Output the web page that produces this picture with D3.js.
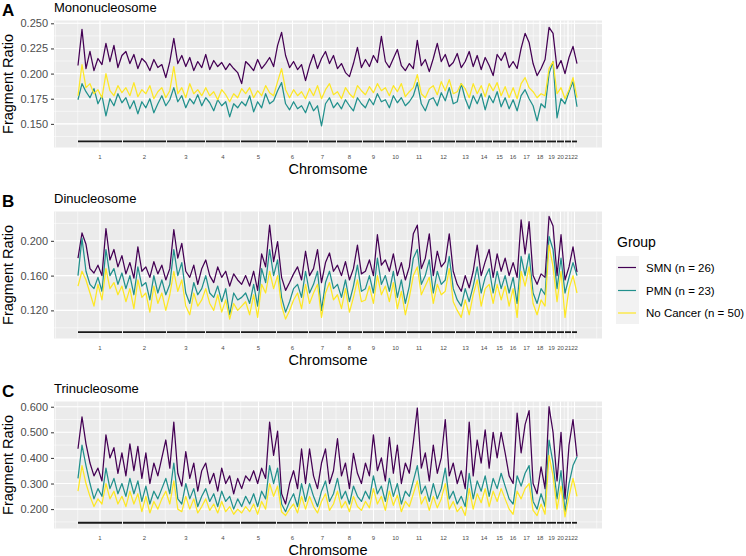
<!DOCTYPE html>
<html><head><meta charset="utf-8">
<script src="https://cdn.jsdelivr.net/npm/d3@7"></script>
<style>body{margin:0;background:#fff}svg{display:block;font-family:"Liberation Sans",Arial,sans-serif}</style>
</head><body><svg id="c" width="746" height="556"></svg>
<script>
// ---------- data ----------
const chromosomes = ["1","2","3","4","5","6","7","8","9","10","11","12","13","14","15","16","17","18","19","20","21","22"];
const chrStart = [0,45,89,128,163,199,231,259,285,307,329,354,378,398,415,429,442,456,469,479,487,494];
const chrEnd   = [44,88,127,162,198,230,258,284,306,328,353,377,397,414,428,441,455,468,478,486,493,499];
const nBins = 499;
const groups = ["SMN (n = 26)", "PMN (n = 23)", "No Cancer (n = 50)"];
const groupColors = ["#440154", "#21908C", "#FDE725"];

const monoSMN = [0.208,0.244,0.205,0.222,0.203,0.215,0.209,0.230,0.212,0.228,0.206,0.218,
 0.222,0.210,0.219,0.205,0.215,0.211,0.203,0.214,0.206,0.209,0.196,
 0.212,0.235,0.210,0.218,0.207,0.216,0.203,0.212,0.206,
 0.219,0.204,0.213,0.207,0.211,0.204,0.210,0.205,0.201,0.190,
 0.212,0.208,0.203,0.214,0.205,0.210,0.216,0.207,
 0.228,0.241,0.218,0.206,0.212,0.204,0.209,0.193,
 0.208,0.219,0.205,0.215,0.222,0.210,0.218,
 0.205,0.210,0.201,0.197,0.210,0.226,0.206,
 0.214,0.207,0.218,0.211,0.237,
 0.212,0.206,0.215,0.224,0.208,0.203,
 0.210,0.205,0.233,0.208,0.214,0.202,
 0.215,0.230,0.212,0.219,0.207,0.211,
 0.220,0.206,0.212,0.222,0.207,
 0.218,0.204,0.216,0.208,0.198,
 0.219,0.213,0.221,
 0.206,0.212,0.205,
 0.225,0.240,0.231,
 0.210,0.198,0.205,0.214,
 0.246,0.240,
 0.205,0.213,
 0.200,0.216,0.227,0.210];
const monoPMN = [0.174,0.190,0.182,0.176,0.185,0.170,0.178,0.158,0.175,0.168,0.180,0.171,
 0.176,0.165,0.173,0.160,0.172,0.166,0.175,0.161,0.170,0.178,0.168,
 0.174,0.186,0.172,0.178,0.166,0.175,0.170,0.179,0.168,
 0.176,0.171,0.163,0.174,0.168,0.172,0.157,0.170,0.166,0.172,
 0.168,0.178,0.162,0.172,0.166,0.180,0.170,0.173,
 0.183,0.191,0.170,0.164,0.172,0.165,0.168,0.161,
 0.172,0.163,0.168,0.148,0.170,0.176,0.166,
 0.171,0.165,0.174,0.168,0.163,0.176,0.170,
 0.166,0.175,0.169,0.180,0.172,
 0.174,0.166,0.178,0.171,0.176,0.168,
 0.172,0.178,0.191,0.170,0.163,0.174,
 0.176,0.168,0.181,0.173,0.186,0.170,
 0.172,0.190,0.175,0.165,0.178,
 0.170,0.180,0.164,0.178,0.171,
 0.182,0.167,0.176,
 0.165,0.174,0.163,
 0.178,0.184,0.175,
 0.168,0.153,0.170,0.166,
 0.200,0.212,
 0.156,0.175,
 0.170,0.182,0.192,0.167];
const monoNC = [0.178,0.209,0.186,0.190,0.180,0.184,0.176,0.200,0.183,0.178,0.188,0.181,
 0.186,0.178,0.191,0.177,0.184,0.180,0.188,0.175,0.182,0.186,0.176,
 0.183,0.207,0.180,0.186,0.176,0.190,0.180,0.184,0.178,
 0.186,0.178,0.182,0.174,0.184,0.179,0.172,0.180,0.176,0.185,
 0.180,0.186,0.176,0.183,0.178,0.188,0.181,0.178,
 0.192,0.205,0.184,0.176,0.184,0.178,0.182,0.175,
 0.185,0.178,0.188,0.175,0.184,0.190,0.179,
 0.182,0.175,0.186,0.180,0.176,0.188,0.183,
 0.179,0.187,0.181,0.190,0.183,
 0.186,0.178,0.188,0.182,0.190,0.177,
 0.182,0.186,0.199,0.180,0.176,0.185,
 0.188,0.179,0.192,0.183,0.194,0.180,
 0.182,0.190,0.185,0.176,0.190,
 0.180,0.188,0.177,0.190,0.183,
 0.191,0.178,0.187,
 0.176,0.186,0.175,
 0.190,0.196,0.186,
 0.182,0.176,0.180,0.178,
 0.205,0.212,
 0.180,0.186,
 0.175,0.184,0.196,0.176];

const diSMN = [0.180,0.209,0.196,0.168,0.163,0.172,0.160,0.214,0.178,0.190,0.170,0.183,
 0.162,0.175,0.157,0.193,0.165,0.170,0.158,0.176,0.162,0.172,0.155,
 0.168,0.213,0.180,0.197,0.165,0.158,0.172,0.150,0.168,
 0.178,0.160,0.152,0.170,0.158,0.165,0.148,0.162,0.155,0.150,
 0.160,0.148,0.165,0.143,0.185,0.170,0.218,0.176,
 0.199,0.158,0.143,0.152,0.162,0.170,0.155,0.188,
 0.160,0.168,0.190,0.152,0.175,0.186,0.165,
 0.172,0.160,0.176,0.155,0.168,0.195,0.162,
 0.165,0.178,0.160,0.207,0.172,
 0.178,0.165,0.185,0.160,0.175,0.155,
 0.170,0.208,0.218,0.168,0.180,0.208,
 0.160,0.188,0.170,0.176,0.208,0.165,
 0.150,0.142,0.160,0.146,0.165,
 0.195,0.160,0.176,0.190,0.158,
 0.185,0.165,0.180,
 0.160,0.175,0.158,
 0.224,0.185,0.222,
 0.160,0.150,0.162,0.158,
 0.228,0.217,
 0.160,0.207,
 0.155,0.170,0.193,0.164];
const diPMN = [0.160,0.203,0.165,0.150,0.145,0.158,0.142,0.190,0.160,0.168,0.150,0.163,
 0.145,0.160,0.138,0.170,0.148,0.152,0.132,0.160,0.140,0.155,0.138,
 0.150,0.190,0.160,0.175,0.140,0.128,0.152,0.138,0.145,
 0.160,0.140,0.135,0.148,0.130,0.145,0.115,0.140,0.132,0.135,
 0.140,0.128,0.150,0.125,0.168,0.152,0.190,0.160,
 0.178,0.135,0.118,0.130,0.145,0.150,0.135,0.165,
 0.140,0.150,0.165,0.120,0.152,0.165,0.145,
 0.150,0.135,0.155,0.130,0.148,0.172,0.142,
 0.145,0.160,0.140,0.180,0.150,
 0.160,0.142,0.165,0.135,0.155,0.128,
 0.148,0.180,0.190,0.150,0.160,0.178,
 0.140,0.165,0.150,0.155,0.182,0.145,
 0.132,0.125,0.145,0.130,0.148,
 0.170,0.140,0.158,0.168,0.140,
 0.165,0.145,0.160,
 0.140,0.158,0.128,
 0.182,0.160,0.185,
 0.140,0.128,0.145,0.138,
 0.205,0.190,
 0.145,0.180,
 0.140,0.158,0.175,0.160];
const diNC = [0.148,0.165,0.155,0.140,0.125,0.150,0.132,0.168,0.145,0.152,0.138,0.148,
 0.130,0.145,0.122,0.155,0.135,0.140,0.118,0.148,0.128,0.140,0.120,
 0.138,0.165,0.142,0.155,0.125,0.115,0.140,0.125,0.132,
 0.145,0.128,0.120,0.138,0.118,0.132,0.110,0.128,0.120,0.125,
 0.130,0.115,0.138,0.112,0.150,0.140,0.165,0.145,
 0.160,0.125,0.110,0.120,0.132,0.140,0.122,0.150,
 0.128,0.140,0.150,0.112,0.140,0.152,0.132,
 0.138,0.122,0.145,0.118,0.135,0.155,0.130,
 0.132,0.148,0.128,0.160,0.138,
 0.148,0.130,0.152,0.122,0.142,0.115,
 0.135,0.160,0.170,0.138,0.148,0.158,
 0.128,0.150,0.138,0.142,0.168,0.130,
 0.120,0.112,0.132,0.115,0.138,
 0.155,0.125,0.145,0.150,0.128,
 0.150,0.132,0.148,
 0.125,0.145,0.112,
 0.165,0.148,0.170,
 0.128,0.115,0.132,0.125,
 0.195,0.170,
 0.130,0.165,
 0.112,0.145,0.160,0.140];

const triSMN = [0.436,0.560,0.455,0.380,0.330,0.360,0.310,0.490,0.400,0.440,0.340,0.420,
 0.330,0.455,0.350,0.445,0.320,0.420,0.300,0.380,0.330,0.400,0.470,
 0.360,0.540,0.340,0.290,0.425,0.320,0.380,0.270,0.350,
 0.380,0.300,0.340,0.270,0.360,0.300,0.330,0.260,0.320,0.280,
 0.330,0.310,0.350,0.300,0.360,0.320,0.540,0.410,
 0.505,0.260,0.220,0.300,0.350,0.280,0.435,0.300,
 0.435,0.330,0.280,0.380,0.435,0.300,0.350,
 0.475,0.330,0.380,0.280,0.418,0.340,0.300,
 0.380,0.330,0.490,0.350,0.400,
 0.310,0.480,0.340,0.450,0.300,0.380,
 0.340,0.460,0.595,0.360,0.420,0.310,
 0.450,0.340,0.400,0.550,0.330,0.380,
 0.300,0.350,0.280,0.540,0.330,
 0.470,0.380,0.510,0.360,0.500,
 0.400,0.500,0.420,
 0.330,0.300,0.575,
 0.420,0.530,0.585,
 0.300,0.260,0.365,0.280,
 0.600,0.500,
 0.310,0.500,
 0.240,0.450,0.550,0.405];
const triPMN = [0.320,0.450,0.370,0.300,0.240,0.280,0.250,0.360,0.280,0.320,0.260,0.300,
 0.250,0.320,0.260,0.310,0.230,0.290,0.220,0.270,0.240,0.280,0.320,
 0.260,0.380,0.240,0.220,0.300,0.240,0.280,0.210,0.250,
 0.280,0.230,0.260,0.210,0.270,0.230,0.250,0.200,0.240,0.210,
 0.250,0.220,0.260,0.210,0.270,0.240,0.370,0.300,
 0.360,0.220,0.190,0.230,0.260,0.210,0.300,0.230,
 0.300,0.250,0.210,0.270,0.310,0.230,0.260,
 0.320,0.240,0.270,0.220,0.290,0.250,0.230,
 0.270,0.240,0.330,0.260,0.290,
 0.230,0.320,0.250,0.300,0.220,0.270,
 0.250,0.310,0.370,0.260,0.290,0.230,
 0.300,0.240,0.280,0.360,0.240,0.270,
 0.220,0.250,0.210,0.340,0.240,
 0.310,0.270,0.330,0.250,0.320,
 0.280,0.340,0.290,
 0.240,0.220,0.330,
 0.290,0.340,0.370,
 0.230,0.200,0.260,0.210,
 0.470,0.380,
 0.240,0.350,
 0.190,0.300,0.370,0.405];
const triNC = [0.270,0.370,0.300,0.250,0.210,0.240,0.220,0.300,0.240,0.270,0.220,0.250,
 0.210,0.270,0.220,0.260,0.190,0.250,0.185,0.230,0.200,0.240,0.270,
 0.220,0.310,0.200,0.190,0.250,0.200,0.240,0.185,0.210,
 0.240,0.195,0.220,0.185,0.230,0.190,0.210,0.180,0.200,0.185,
 0.210,0.190,0.220,0.180,0.230,0.200,0.300,0.250,
 0.290,0.190,0.175,0.200,0.220,0.185,0.250,0.200,
 0.250,0.210,0.185,0.230,0.260,0.195,0.220,
 0.270,0.205,0.230,0.190,0.250,0.210,0.195,
 0.230,0.205,0.280,0.220,0.250,
 0.195,0.270,0.215,0.255,0.190,0.230,
 0.210,0.260,0.310,0.220,0.250,0.195,
 0.250,0.205,0.240,0.300,0.200,0.230,
 0.190,0.210,0.175,0.280,0.200,
 0.260,0.225,0.280,0.210,0.270,
 0.230,0.280,0.240,
 0.200,0.180,0.270,
 0.240,0.280,0.300,
 0.195,0.175,0.220,0.180,
 0.410,0.330,
 0.200,0.290,
 0.170,0.250,0.320,0.250];

const monoTicks = [0.150,0.175,0.200,0.225,0.250];
const diTicks = [0.120,0.160,0.200];
const triTicks = [0.200,0.300,0.400,0.500,0.600];

// ---------- layout ----------
const svg = d3.select("#c");
const panelLeft = 54, panelRight = 602, panelH = 127;
const x = d3.scaleLinear().domain([-24, nBins + 25]).range([panelLeft, panelRight]);

const panels = [
  {letter:"A", title:"Mononucleosome", top:20.5, domain:[0.1265,0.2528], ticks:monoTicks, barValue:0.1325, series:[monoSMN,monoPMN,monoNC]},
  {letter:"B", title:"Dinucleosome",   top:211.5, domain:[0.0877,0.2337], ticks:diTicks, barValue:0.0950, series:[diSMN,diPMN,diNC]},
  {letter:"C", title:"Trinucleosome",  top:401.5, domain:[0.1243,0.6204], ticks:triTicks, barValue:0.1467, series:[triSMN,triPMN,triNC]}
];

function minorBreaks(b, lo, hi){
  const bd = b[1]-b[0];
  let e = b.slice();
  if (lo < e[0]) e.unshift(e[0]-bd);
  if (hi > e[e.length-1]) e.push(e[e.length-1]+bd);
  const out = [];
  for (let i=0;i<e.length-1;i++){ out.push(e[i]); out.push((e[i]+e[i+1])/2); }
  out.push(e[e.length-1]);
  return out.filter(v => v>=lo && v<=hi);
}

const chrCenters = chromosomes.map((c,i)=>(chrStart[i]+chrEnd[i])/2);
const xMinor = minorBreaks(chrCenters, x.domain()[0], x.domain()[1]);

panels.forEach(p => {
  const y = d3.scaleLinear().domain(p.domain).range([p.top+panelH, p.top]);
  const g = svg.append("g");
  g.append("rect").attr("x",panelLeft).attr("y",p.top).attr("width",panelRight-panelLeft).attr("height",panelH).attr("fill","#EBEBEB");
  const yMinor = minorBreaks(p.ticks, p.domain[0], p.domain[1]);
  g.selectAll(".hmin").data(yMinor).join("line").attr("x1",panelLeft).attr("x2",panelRight)
    .attr("y1",d=>y(d)).attr("y2",d=>y(d)).attr("stroke","#fff").attr("stroke-width",0.55);
  g.selectAll(".vmin").data(xMinor).join("line").attr("y1",p.top).attr("y2",p.top+panelH)
    .attr("x1",d=>x(d)).attr("x2",d=>x(d)).attr("stroke","#fff").attr("stroke-width",0.55);
  g.selectAll(".hmaj").data(p.ticks).join("line").attr("x1",panelLeft).attr("x2",panelRight)
    .attr("y1",d=>y(d)).attr("y2",d=>y(d)).attr("stroke","#fff").attr("stroke-width",1.1);
  g.selectAll(".vmaj").data(chrCenters).join("line").attr("y1",p.top).attr("y2",p.top+panelH)
    .attr("x1",d=>x(d)).attr("x2",d=>x(d)).attr("stroke","#fff").attr("stroke-width",1.1);

  p.series.forEach((vals,si) => {
    const step = nBins/(vals.length-1);
    const line = d3.line().x((d,i)=>x(i*step)).y(d=>y(d));
    g.append("path").datum(vals).attr("d",line).attr("fill","none")
      .attr("stroke",groupColors[si]).attr("stroke-width",1.25).attr("stroke-linejoin","round");
  });

  g.selectAll(".seg").data(chromosomes).join("line")
    .attr("x1",(d,i)=>x(chrStart[i])).attr("x2",(d,i)=>x(chrEnd[i]))
    .attr("y1",y(p.barValue)).attr("y2",y(p.barValue))
    .attr("stroke","#1a1a1a").attr("stroke-width",1.8);

  const ya = d3.axisLeft(y).tickValues(p.ticks).tickFormat(d3.format(".3f")).tickSize(3).tickPadding(3);
  const ag = g.append("g").attr("transform",`translate(${panelLeft},0)`).call(ya);
  ag.select(".domain").remove();
  ag.selectAll(".tick line").attr("stroke","#333").attr("stroke-width",1);
  ag.selectAll(".tick text").attr("fill","#4D4D4D").style("font-size","11px").style("font-family","'Liberation Sans',Arial,sans-serif");

  g.selectAll(".xl").data(chromosomes).join("text")
    .attr("x",(d,i)=>x(chrCenters[i])).attr("y",p.top+panelH+11)
    .attr("text-anchor","middle").attr("fill","#4D4D4D").style("font-size","6px").text(d=>d);

  g.append("text").attr("x",2).attr("y",p.top-4.5).style("font-size","17px").style("font-weight","bold").text(p.letter);
  g.append("text").attr("x",panelLeft).attr("y",p.top-8.5).style("font-size","13px").text(p.title);
  g.append("text").attr("x",(panelLeft+panelRight)/2).attr("y",p.top+panelH+26).attr("text-anchor","middle")
    .style("font-size","14.5px").text("Chromsome");
  g.append("text").attr("transform",`translate(12.5,${p.top+panelH/2}) rotate(-90)`).attr("text-anchor","middle")
    .style("font-size","14.5px").text("Fragment Ratio");
});

const lg = svg.append("g");
lg.append("text").attr("x",617).attr("y",246.5).style("font-size","14px").text("Group");
lg.append("rect").attr("x",616).attr("y",256).attr("width",23).attr("height",68).attr("fill","#F2F2F2");
const rowY = [267.5, 290.5, 313];
groups.forEach((gname,i) => {
  lg.append("line").attr("x1",618).attr("x2",636).attr("y1",rowY[i]).attr("y2",rowY[i])
    .attr("stroke",groupColors[i]).attr("stroke-width",1.2);
  lg.append("text").attr("x",646).attr("y",rowY[i]).attr("dy","0.35em").style("font-size","11.5px").text(gname);
});
</script>
</body></html>
